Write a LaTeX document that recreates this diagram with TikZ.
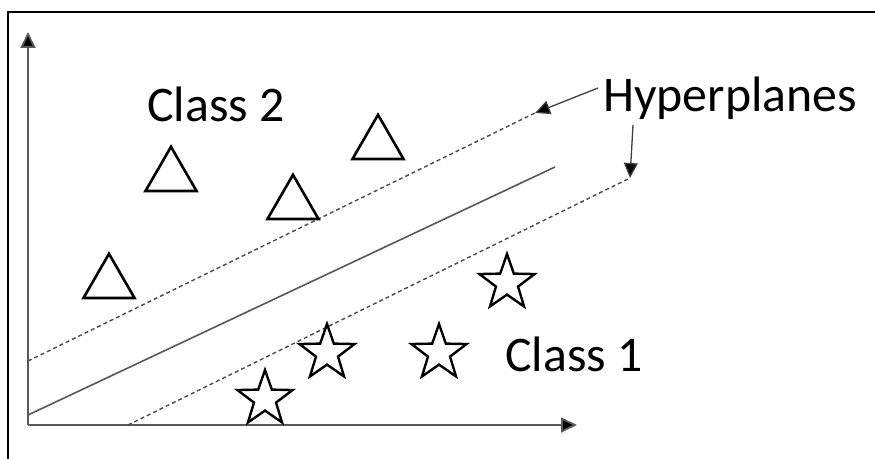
\documentclass[tikz,border=0pt]{standalone}
\usepackage{fontspec}
\setmainfont{Carlito}
\usetikzlibrary{shapes.geometric,arrows.meta}
\begin{document}
\begin{tikzpicture}[x=1bp,y=-1bp,
  frameline/.style={line width=2.2bp,black},
  axisline/.style={line width=1.8bp,black!65,-{Triangle[length=16bp,width=15bp,fill=black]}},
  margin/.style={line width=1.4bp,black!70,dash pattern=on 4bp off 3bp},
  separator/.style={line width=1.6bp,black!65},
  pointer/.style={line width=1.3bp,black!75,-{Triangle[length=15bp,width=14bp,fill=black]}},
  label/.style={anchor=base west,inner sep=0pt,font=\fontsize{50}{60}\selectfont},
  tri/.style={regular polygon,regular polygon sides=3,minimum size=59bp,inner sep=0pt,draw,line width=2.6bp},
  starmark/.style={star,star points=5,star point ratio=2.5,minimum size=58bp,inner sep=0pt,draw,line width=2.4bp}]
\useasboundingbox (0,0) rectangle (875,459);
\fill[white] (0,0) rectangle (875,459);

% frame (top and left edges)
\draw[frameline] (875,12) -- (8,12) -- (8,459);

% axes
\coordinate (O) at (28,425);
\coordinate (ytip) at (28,32);
\coordinate (xtip) at (577,425);
\draw[axisline] (O) -- (ytip);
\draw[axisline] (O) -- (xtip);

% separating line and the two margin hyperplanes
\coordinate (upA) at (28,361);
\coordinate (upB) at (535,113);
\coordinate (midA) at (28,415);
\coordinate (midB) at (555,167);
\coordinate (loA) at (128,425);
\coordinate (loB) at (630,178);
\draw[margin] (upA) -- (upB);
\draw[separator] (midA) -- (midB);
\draw[margin] (loA) -- (loB);

% class 2 samples
\node[tri] (t1) at (109,283.3) {};
\node[tri] (t2) at (171,176.3) {};
\node[tri] (t3) at (293,204.3) {};
\node[tri] (t4) at (378,144.3) {};

% class 1 samples
\node[starmark] (s1) at (265,399) {};
\node[starmark] (s2) at (327,353) {};
\node[starmark] (s3) at (439,353) {};
\node[starmark] (s4) at (507,283) {};

% labels
\node[label] (c2) at (147,122) {Class 2};
\node[label] (c1) at (505,372) {Class 1};
\node[label] (hp) at (603,112) {Hyperplanes};

% pointers to the hyperplanes
\coordinate (p1) at (598,88);
\coordinate (p2) at (633,125);
\draw[pointer] (p1) -- (upB);
\draw[pointer] (p2) -- (loB);
\end{tikzpicture}
\end{document}
